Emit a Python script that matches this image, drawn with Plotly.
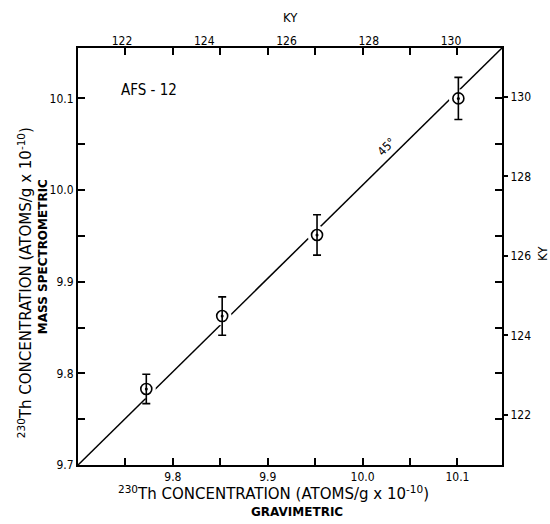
import plotly.graph_objects as go

# Data
grav = [9.772, 9.852, 9.952, 10.101]          # x: gravimetric
mass = [9.783, 9.8625, 9.951, 10.100]         # y: mass spectrometric
err = [0.016, 0.021, 0.022, 0.023]            # y error bars
line_x = [9.70, 10.147]                       # 45 degree reference line
line_y = [9.70, 10.155]
x_ticks = [9.75, 9.8, 9.85, 9.9, 9.95, 10.0, 10.05, 10.1]
x_labels = ["", "9.8", "", "9.9", "", "10.0", "", "10.1"]
y_ticks = [9.7, 9.75, 9.8, 9.85, 9.9, 9.95, 10.0, 10.05, 10.1]
y_labels = ["9.7", "", "9.8", "", "9.9", "", "10.0", "", "10.1"]
ky_ticks = [122, 124, 126, 128, 130]

FONT = "DejaVu Sans Condensed, Liberation Sans Narrow, Roboto, sans-serif"
TFONT = "DejaVu Sans, Roboto, sans-serif"

fig = go.Figure()
fig.add_trace(go.Scatter(x=line_x, y=line_y, mode="lines",
                         line=dict(color="black", width=1.5),
                         hoverinfo="skip", showlegend=False))
# white masks that break the line around the points
fig.add_trace(go.Scatter(x=grav, y=mass, mode="markers",
                         marker=dict(symbol="circle", size=19, color="white",
                                     line=dict(width=0)),
                         hoverinfo="skip", showlegend=False))
fig.add_trace(go.Scatter(x=grav, y=mass, mode="markers",
                         marker=dict(symbol="circle-open", size=11, color="black",
                                     line=dict(width=1.6)),
                         error_y=dict(type="data", array=err, visible=True,
                                      color="black", thickness=1.6, width=4),
                         showlegend=False))
fig.add_trace(go.Scatter(x=grav, y=mass, mode="markers",
                         marker=dict(symbol="circle", size=3, color="black"),
                         hoverinfo="skip", showlegend=False))
# secondary axes traces (invisible) to activate KY axes
fig.add_trace(go.Scatter(x=[ky_ticks[0]], y=[None], xaxis="x2", yaxis="y",
                         mode="markers", marker=dict(opacity=0), showlegend=False,
                         hoverinfo="skip"))
fig.add_trace(go.Scatter(x=[None], y=[ky_ticks[0]], xaxis="x", yaxis="y2",
                         mode="markers", marker=dict(opacity=0), showlegend=False,
                         hoverinfo="skip"))

axis_common = dict(showgrid=False, zeroline=False, showline=True,
                   linecolor="black", linewidth=2,
                   tickfont=dict(family=FONT, size=12, color="black"))

fig.update_layout(
    width=550, height=524,
    margin=dict(l=78, r=48, t=48, b=59),
    paper_bgcolor="white", plot_bgcolor="white",
    font=dict(family=FONT, color="black"),
    xaxis=dict(range=[9.70, 10.147], tickvals=x_ticks, ticktext=x_labels,
               ticks="inside", ticklen=7, tickwidth=1.5, tickcolor="black",
               mirror="ticks", **axis_common),
    yaxis=dict(range=[9.70, 10.155], tickvals=y_ticks, ticktext=y_labels,
               ticks="inside", ticklen=7, tickwidth=1.5, tickcolor="black",
               mirror="ticks", **axis_common),
    xaxis2=dict(overlaying="x", side="top", range=[120.93, 131.24],
                tickvals=ky_ticks, ticks="", showgrid=False, zeroline=False,
                showline=False,
                tickfont=dict(family=FONT, size=12, color="black")),
    yaxis2=dict(overlaying="y", side="right", range=[120.74, 131.23],
                tickvals=ky_ticks, ticks="outside", ticklen=5, tickwidth=1.5,
                tickcolor="black", showgrid=False, zeroline=False, showline=False,
                tickfont=dict(family=FONT, size=12, color="black")),
)

title_main = "<sup>230</sup>Th CONCENTRATION (ATOMS/g x 10<sup>-10</sup>)"
ann = [
    dict(text=title_main, x=0.46, y=-0.068, font_size=15, textangle=0, f=TFONT),
    dict(text="<b>GRAVIMETRIC</b>", x=0.517, y=-0.113, font_size=12, textangle=0, f=TFONT),
    dict(text=title_main, x=-0.125, y=0.436, font_size=15, textangle=-90, f=TFONT),
    dict(text="<b>MASS SPECTROMETRIC</b>", x=-0.082, y=0.499, font_size=12, textangle=-90, f=TFONT),
    dict(text="AFS - 12", x=0.167, y=0.899, font_size=15, textangle=0, f=FONT),
    dict(text="KY", x=0.5, y=1.072, font_size=13, textangle=0, f=FONT),
    dict(text="KY", x=1.094, y=0.508, font_size=13, textangle=-90, f=FONT),
]
for a in ann:
    fig.add_annotation(xref="paper", yref="paper", x=a["x"], y=a["y"],
                       text=a["text"], showarrow=False, textangle=a["textangle"],
                       font=dict(family=a["f"], size=a["font_size"], color="black"),
                       xanchor="center", yanchor="middle")
fig.add_annotation(x=10.025, y=10.047, text="45°", showarrow=False, textangle=-45,
                   font=dict(family=FONT, size=12, color="black"))

fig.write_html("out.html")
